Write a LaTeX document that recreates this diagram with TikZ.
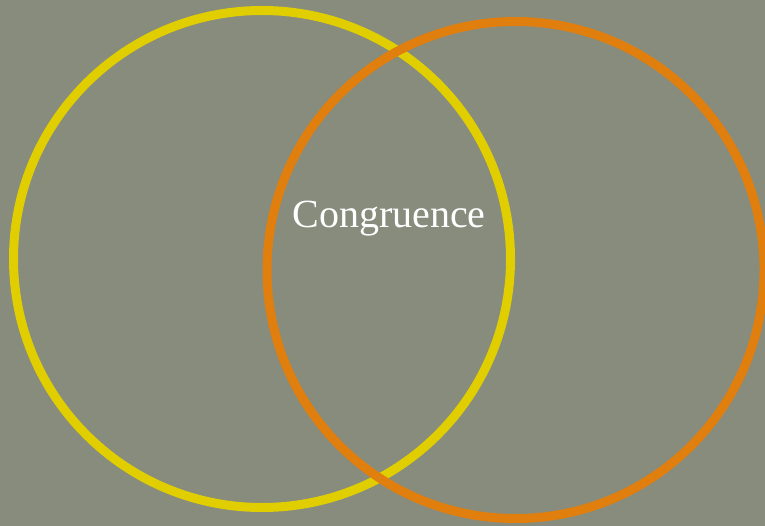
\documentclass[tikz,border=0pt]{standalone}
\usepackage{fontspec}
\setmainfont{Liberation Serif}
\usepackage{xcolor}
\definecolor{slate}{RGB}{135,140,125}
\definecolor{gold}{RGB}{224,206,0}
\definecolor{tangerine}{RGB}{224,126,14}
\begin{document}
\begin{tikzpicture}[x=1pt, y=-1pt,
  ring/.style={line width=9pt}]
  \useasboundingbox (0,0) rectangle (765,526);
  \clip (0,0) rectangle (765,526);
  \fill[slate] (0,0) rectangle (765,526);
  % Two overlapping sets
  \draw[ring, gold] (262,259) circle (248.5pt);
  \draw[ring, tangerine] (515.5,270) circle (248.5pt);
  % Overlap label
  \node[text=white, anchor=base, inner sep=0pt] (overlap) at (389,228)
    {\fontsize{40}{42}\selectfont Congruence};
\end{tikzpicture}
\end{document}
